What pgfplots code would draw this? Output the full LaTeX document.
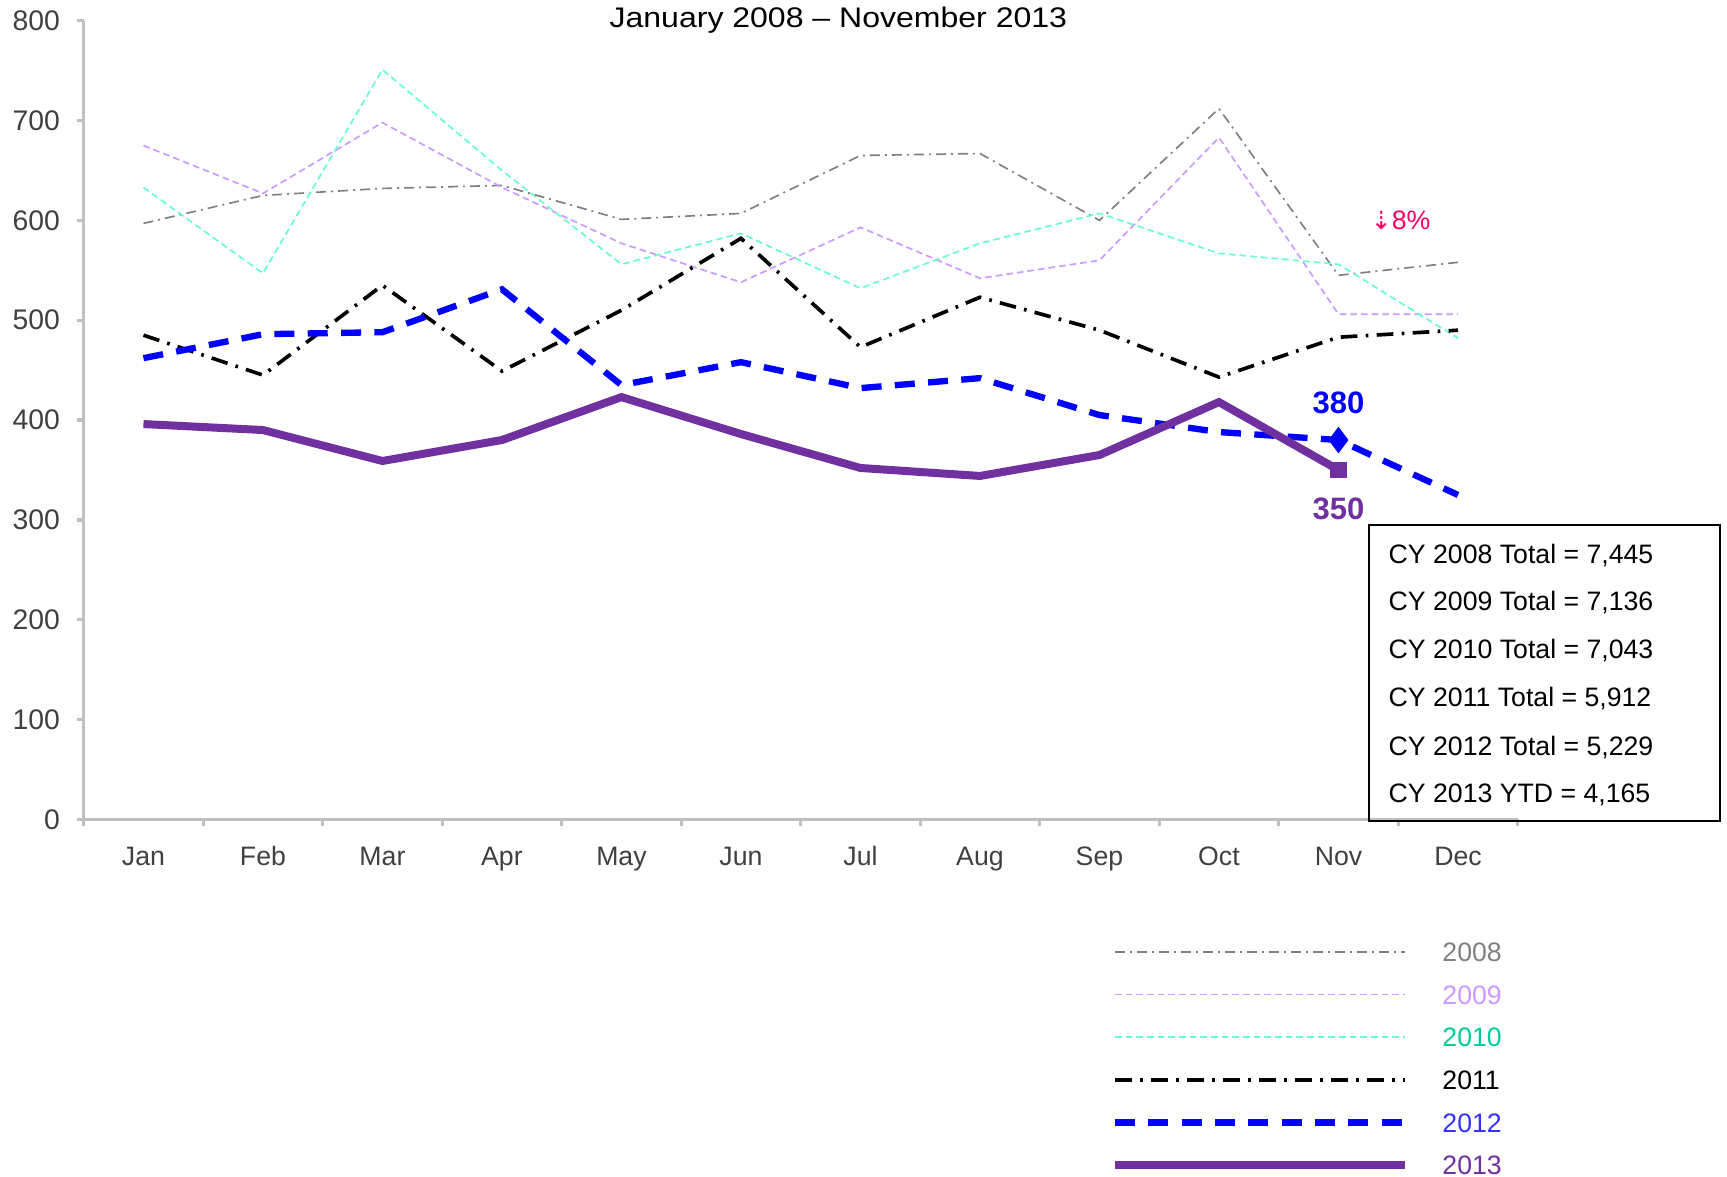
\documentclass[border=0pt]{standalone}
\usepackage{pgfplots}
\pgfplotsset{compat=1.18}
\usepackage{fontspec}
\setmainfont{Liberation Sans}
\newfontfamily\dejavu{DejaVu Sans}
\definecolor{axisgray}{HTML}{BFBFBF}
\definecolor{ticktext}{HTML}{404040}
\definecolor{cA}{HTML}{808080}
\definecolor{cB}{HTML}{CC99FF}
\definecolor{cC}{HTML}{66FFCC}
\definecolor{cCtext}{HTML}{00CC99}
\definecolor{cD}{HTML}{000000}
\definecolor{cE}{HTML}{0000FF}
\definecolor{cEtext}{HTML}{3333FF}
\definecolor{cF}{HTML}{7030A0}
\definecolor{pinkc}{HTML}{FF0066}
\begin{document}
\begin{tikzpicture}
\useasboundingbox (0,0) rectangle (518.1pt,352.8pt);
\begin{axis}[
  at={(25.11pt,106.98pt)}, anchor=south west,
  width=430.2pt, height=239.6pt, scale only axis,
  xmin=-0.5, xmax=11.5, ymin=0, ymax=800,
  axis x line*=bottom, axis y line*=left,
  axis line style={-, draw=axisgray, line width=1pt},
  every tick/.style={axisgray, line width=1pt},
  tick align=outside,
  major tick length=2pt, minor tick length=2pt,
  xtick={0,...,11},
  xticklabels={Jan,Feb,Mar,Apr,May,Jun,Jul,Aug,Sep,Oct,Nov,Dec},
  major x tick style={draw=none},
  minor xtick={-0.5,0.5,...,11.5},
  ytick={0,100,...,800},
  /pgf/number format/assume math mode=true,
  ticklabel style={font=\fontsize{8}{9.6}\selectfont, text=ticktext},
  xticklabel style={yshift=-2.6pt, text height=5.8pt, text depth=0pt},
  yticklabel style={font=\fontsize{8.5}{10}\selectfont, xshift=-1.6pt},
  legend cell align=left,
  legend image code/.code={\draw[#1] (0pt,0pt) -- (87pt,0pt);},
  legend style={at={(axis description cs:0.716,-0.153)}, anchor=north west,
    draw=none, fill=none, inner sep=0pt, row sep=7.0pt, column sep=10pt,
    nodes={inner sep=0pt, text height=5.8pt, text depth=0pt, font=\fontsize{8}{9.6}\selectfont}},
  clip=false,
]
\addplot[cA, line width=0.5pt, dash pattern=on 3pt off 1.5pt on 0.6pt off 1.5pt] coordinates {
(0,597) (1,625) (2,632) (3,635) (4,601) (5,607) (6,665) (7,667) (8,600) (9,712) (10,545) (11,558)};
\addlegendentry{\textcolor{cA}{2008}}
\addplot[cB, line width=0.5pt, dash pattern=on 2pt off 1.2pt] coordinates {
(0,675) (1,627) (2,698) (3,633) (4,577) (5,538) (6,593) (7,542) (8,560) (9,683) (10,506) (11,506)};
\addlegendentry{\textcolor{cB}{2009}}
\addplot[cC, line width=0.5pt, dash pattern=on 2pt off 1.2pt] coordinates {
(0,633) (1,547) (2,751) (3,650) (4,556) (5,587) (6,532) (7,577) (8,607) (9,567) (10,556) (11,482)};
\addlegendentry{\textcolor{cCtext}{2010}}
\addplot[cD, line width=1.1pt, dash pattern=on 5pt off 2.5pt on 0.8pt off 2.5pt] coordinates {
(0,485) (1,445) (2,535) (3,449) (4,510) (5,582) (6,473) (7,523) (8,490) (9,443) (10,483) (11,490)};
\addlegendentry{\textcolor{cD}{2011}}
\addplot[cE, line width=1.9pt, dash pattern=on 6pt off 4pt, mark=diamond*, mark indices={11}, mark size=2.4pt, mark options={solid}] coordinates {
(0,462) (1,486) (2,488) (3,531) (4,435) (5,458) (6,432) (7,442) (8,405) (9,388) (10,380) (11,325)};
\addlegendentry{\textcolor{cEtext}{2012}}
\addplot[cF, line width=2.4pt, mark=square*, mark indices={11}, mark size=2.3pt, mark options={solid, line width=0.4pt}] coordinates {
(0,396) (1,390) (2,359) (3,380) (4,423) (5,386) (6,352) (7,344) (8,365) (9,418) (10,350)};
\addlegendentry{\textcolor{cF}{2013}}
\node[font=\bfseries\fontsize{9.3}{11}\selectfont, text=cE, yshift=11.1pt] at (axis cs:10,380) {380};
\node[font=\bfseries\fontsize{9.3}{11}\selectfont, text=cF, yshift=-11.7pt] at (axis cs:10,350) {350};
\node[font=\fontsize{8}{9.6}\selectfont, text=pinkc] at (axis cs:10.52,600) {{\dejavu\fontsize{7.5}{8}\selectfont ⇣}8\%};
\end{axis}
\node[anchor=base, font=\fontsize{8.5}{10}\selectfont] at (251.5pt,344.5pt) {\scalebox{1.13}[1]{January 2008 – November 2013}};
\draw[line width=0.5pt] (410.7pt,106.5pt) rectangle (516pt,195.3pt);
\begin{scope}[every node/.style={anchor=west, inner sep=0pt, font=\fontsize{8}{9.6}\selectfont}]
\node at (416.4pt,186.2pt) {CY 2008 Total = 7,445};
\node at (416.4pt,172.1pt) {CY 2009 Total = 7,136};
\node at (416.4pt,157.6pt) {CY 2010 Total = 7,043};
\node at (416.4pt,143.3pt) {CY 2011 Total = 5,912};
\node at (416.4pt,128.6pt) {CY 2012 Total = 5,229};
\node at (416.4pt,114.2pt) {CY 2013 YTD = 4,165};
\end{scope}
\end{tikzpicture}
\end{document}
